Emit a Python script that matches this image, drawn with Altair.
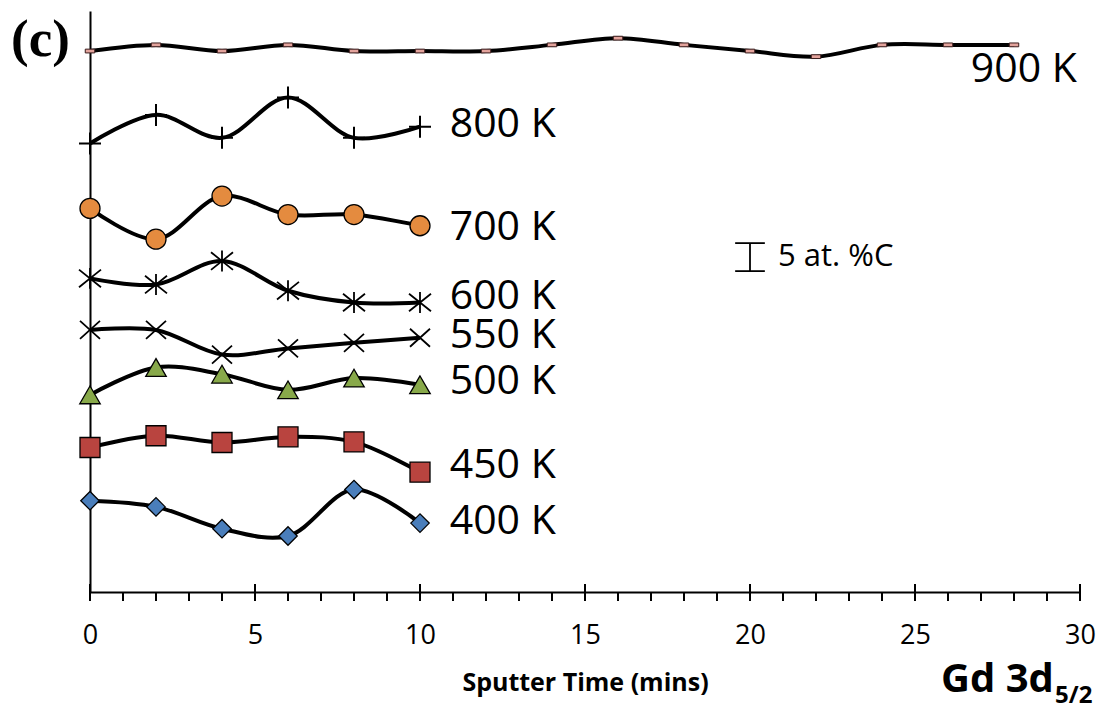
import altair as alt
import pandas as pd

# ---------------- data ----------------
x_short = [0, 2, 4, 6, 8, 10]
x_long = [0, 2, 4, 6, 8, 10, 12, 14, 16, 18, 20, 22, 24, 26, 28]

y_900 = [96.6, 97.7, 96.6, 97.7, 96.6, 96.6, 96.6, 97.7, 98.9, 97.7, 96.6, 95.6, 97.7, 97.7, 97.7]
y_800 = [80.1, 85.2, 81.1, 88.3, 81.1, 83.1]
y_700 = [68.5, 63.0, 70.7, 67.4, 67.4, 65.4]
y_600 = [56.0, 54.9, 59.1, 53.8, 51.7, 51.7]
y_550 = [46.8, 46.8, 42.4, 43.5, 44.5, 45.4]
y_500 = [35.2, 40.1, 38.9, 36.1, 38.2, 37.0]
y_450 = [25.8, 27.9, 26.7, 27.7, 26.8, 21.4]
y_400 = [16.3, 15.2, 11.3, 10.0, 18.3, 12.3]

series_names = ["900 K", "800 K", "700 K", "600 K", "550 K", "500 K", "450 K", "400 K"]
series_x = [x_long, x_short, x_short, x_short, x_short, x_short, x_short, x_short]
series_y = [y_900, y_800, y_700, y_600, y_550, y_500, y_450, y_400]

# label anchor positions (data units)
label_x = [28.3, 10.9, 10.9, 10.9, 10.9, 10.9, 10.9, 10.9]
label_y = [93.2, 83.4, 65.0, 52.7, 45.7, 37.5, 22.5, 12.5]
label_align = ["center", "left", "left", "left", "left", "left", "left", "left"]

major_ticks = [0, 5, 10, 15, 20, 25, 30]
minor_ticks = [t for t in range(0, 31) if t % 5 != 0]

# scale bar (5 at. %C)
bar_x = 20
bar_low = 57.3
bar_high = 62.3
bar_half_width = 0.45

# ---------------- styles ----------------
marker_styles = [
    dict(shape="M-1,-0.4L1,-0.4L1,0.4L-1,0.4Z", size=90, filled=True, fill="#E3A39C", stroke="#3a1c1c", strokeWidth=1),
    dict(shape="M-1,0L1,0M0,-1L0,1", size=484, filled=False, color="black", strokeWidth=2),
    dict(shape="circle", size=400, filled=True, fill="#E48B3F", stroke="black", strokeWidth=1.3),
    dict(shape="M-1,-0.8L1,0.8M-1,0.8L1,-0.8M0,-0.95L0,0.95", size=484, filled=False, color="black", strokeWidth=1.8),
    dict(shape="M-1,-0.9L1,0.9M-1,0.9L1,-0.9", size=400, filled=False, color="black", strokeWidth=1.8),
    dict(shape="triangle-up", size=420, filled=True, fill="#88A94A", stroke="black", strokeWidth=1.3),
    dict(shape="square", size=400, filled=True, fill="#B9443F", stroke="black", strokeWidth=1.3),
    dict(shape="diamond", size=340, filled=True, fill="#4A7EBB", stroke="black", strokeWidth=1.3),
]

W, H = 990, 581
FONT = "Open Sans"

xscale = alt.Scale(domain=[0, 30], nice=False, zero=False)
yscale = alt.Scale(domain=[0, 103.75], nice=False, zero=False)

xaxis = alt.Axis(
    values=major_ticks, format="d", ticks=False, grid=False, labelFlush=False,
    domainColor="black", domainWidth=2.2,
    labelFont=FONT, labelFontSize=27, labelColor="black", labelPadding=30,
    title="Sputter Time (mins)", titleFont=FONT, titleFontSize=25,
    titleFontWeight="bold", titleColor="black", titlePadding=22,
)
yaxis = alt.Axis(labels=False, ticks=False, grid=False, title=None,
                 domainColor="black", domainWidth=2)

rows = []
for name, xs, ys in zip(series_names, series_x, series_y):
    for xv, yv in zip(xs, ys):
        rows.append({"series": name, "x": xv, "y": yv})
df = pd.DataFrame(rows)

X = alt.X("x:Q", scale=xscale, axis=xaxis)
Y = alt.Y("y:Q", scale=yscale, axis=yaxis)

lines = alt.Chart(df).mark_line(
    interpolate="catmull-rom", color="black", strokeWidth=4
).encode(x=X, y=Y, detail="series:N")

layers = [lines]

for name, style in zip(series_names, marker_styles):
    sub = df[df["series"] == name]
    layers.append(
        alt.Chart(sub).mark_point(opacity=1, **style).encode(x=X, y=Y)
    )

lab_df = pd.DataFrame({"name": series_names, "x": label_x, "y": label_y, "align": label_align})
for al in ["left", "center"]:
    layers.append(
        alt.Chart(lab_df[lab_df["align"] == al]).mark_text(
            align=al, baseline="middle", font=FONT, fontSize=41, color="black"
        ).encode(x=X, y=Y, text="name:N")
    )

# axis ticks: major cross the axis, minor below only
maj_df = pd.DataFrame({"x": major_ticks})
min_df = pd.DataFrame({"x": minor_ticks})
layers.append(alt.Chart(maj_df).mark_rule(color="black", strokeWidth=2).encode(
    x=X, y=alt.value(H - 8), y2=alt.value(H + 9)))
layers.append(alt.Chart(min_df).mark_rule(color="black", strokeWidth=2).encode(
    x=X, y=alt.value(H), y2=alt.value(H + 9)))

# scale bar
bar_v = pd.DataFrame({"x": [bar_x], "y": [bar_low], "y2": [bar_high]})
layers.append(alt.Chart(bar_v).mark_rule(color="black", strokeWidth=1.8).encode(
    x=X, y=Y, y2="y2:Q"))
bar_h = pd.DataFrame({"x": [bar_x - bar_half_width] * 2, "x2": [bar_x + bar_half_width] * 2,
                      "y": [bar_low, bar_high]})
layers.append(alt.Chart(bar_h).mark_rule(color="black", strokeWidth=1.8).encode(
    x=X, x2="x2:Q", y=Y))
bar_t = pd.DataFrame({"x": [bar_x + 0.85], "y": [(bar_low + bar_high) / 2], "t": ["5 at. %C"]})
layers.append(alt.Chart(bar_t).mark_text(
    align="left", baseline="middle", font=FONT, fontSize=31, color="black"
).encode(x=X, y=Y, text="t:N"))

# panel letter and element label
ann = pd.DataFrame({"t": ["(c)"]})
layers.append(alt.Chart(ann).mark_text(
    align="left", baseline="alphabetic", font="Liberation Serif", fontWeight="bold",
    fontSize=53, color="black"
).encode(x=alt.value(-79), y=alt.value(45), text="t:N"))

gd = pd.DataFrame({"t": ["Gd 3d"]})
layers.append(alt.Chart(gd).mark_text(
    align="left", baseline="alphabetic", font=FONT, fontWeight="bold",
    fontSize=40, color="black"
).encode(x=alt.value(851), y=alt.value(681), text="t:N"))
sub_t = pd.DataFrame({"t": ["5/2"]})
layers.append(alt.Chart(sub_t).mark_text(
    align="left", baseline="alphabetic", font=FONT, fontWeight="bold", fontSize=24, color="black"
).encode(x=alt.value(965), y=alt.value(692), text="t:N"))

chart = alt.layer(*layers).properties(
    width=W, height=H,
    autosize=alt.AutoSizeParams(type="none"),
    padding={"left": 90, "top": 11, "right": 25, "bottom": 117},
    background="white",
).configure_view(stroke=None)

chart.save("out.html", embed_options={"renderer": "svg", "actions": False})
